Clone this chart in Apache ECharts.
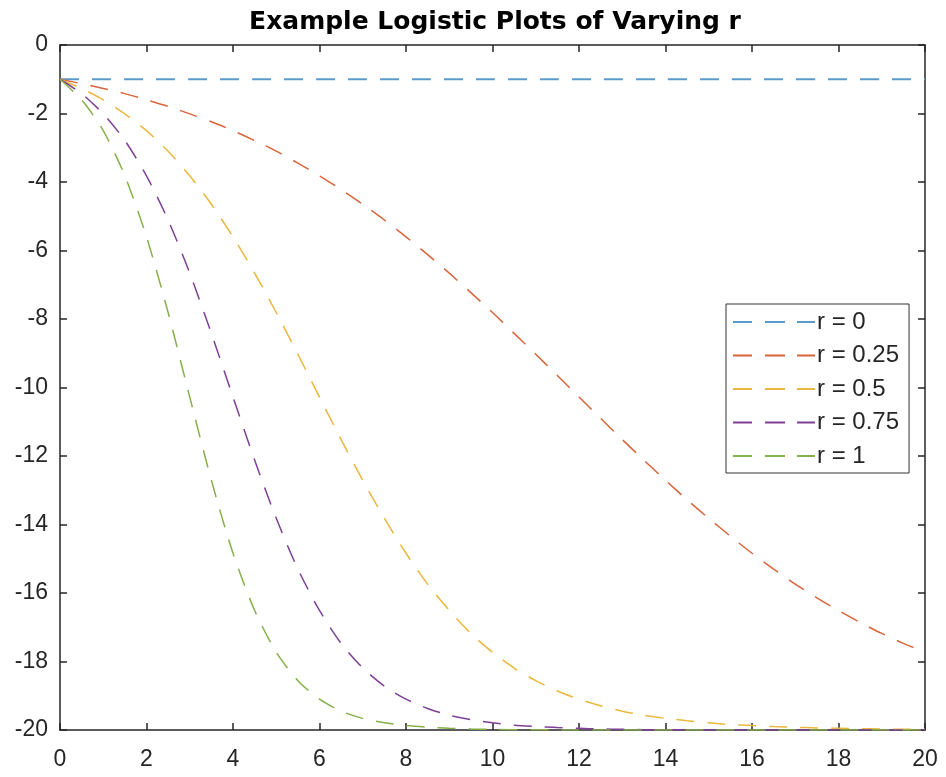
<!DOCTYPE html>
<html>
<head>
<meta charset="utf-8">
<script src="https://cdn.jsdelivr.net/npm/echarts@6/dist/echarts.min.js"></script>
<style>
html,body{margin:0;padding:0;background:#fff;}
#chart{width:946px;height:777px;}
</style>
</head>
<body>
<div id="chart"></div>
<script>
// x samples
var xValues = [0,0.5,1,1.5,2,2.5,3,3.5,4,4.5,5,5.5,6,6.5,7,7.5,8,8.5,9,9.5,10,10.5,11,11.5,12,12.5,13,13.5,14,14.5,15,15.5,16,16.5,17,17.5,18,18.5,19,19.5,20];
var seriesNames = ['r = 0','r = 0.25','r = 0.5','r = 0.75','r = 1'];
var r0 = [-1,-1,-1,-1,-1,-1,-1,-1,-1,-1,-1,-1,-1,-1,-1,-1,-1,-1,-1,-1,-1,-1,-1,-1,-1,-1,-1,-1,-1,-1,-1,-1,-1,-1,-1,-1,-1,-1,-1,-1,-1];
var r025 = [-1,-1.13,-1.27,-1.42,-1.6,-1.79,-2.01,-2.24,-2.5,-2.79,-3.1,-3.45,-3.82,-4.22,-4.65,-5.11,-5.6,-6.12,-6.66,-7.23,-7.81,-8.42,-9.03,-9.65,-10.28,-10.9,-11.52,-12.12,-12.71,-13.28,-13.82,-14.34,-14.84,-15.3,-15.74,-16.14,-16.51,-16.86,-17.18,-17.47,-17.73];
var r050 = [-1,-1.27,-1.6,-2.01,-2.5,-3.1,-3.82,-4.65,-5.6,-6.66,-7.81,-9.03,-10.28,-11.52,-12.71,-13.82,-14.84,-15.74,-16.51,-17.18,-17.73,-18.19,-18.56,-18.86,-19.1,-19.29,-19.45,-19.57,-19.66,-19.73,-19.79,-19.84,-19.87,-19.9,-19.92,-19.94,-19.95,-19.96,-19.97,-19.98,-19.98];
var r075 = [-1,-1.42,-2.01,-2.79,-3.82,-5.11,-6.66,-8.42,-10.28,-12.12,-13.82,-15.3,-16.51,-17.47,-18.19,-18.72,-19.1,-19.37,-19.57,-19.7,-19.79,-19.86,-19.9,-19.93,-19.95,-19.97,-19.98,-19.99,-19.99,-19.99,-20,-20,-20,-20,-20,-20,-20,-20,-20,-20,-20];
var r100 = [-1,-1.6,-2.5,-3.82,-5.6,-7.81,-10.28,-12.71,-14.84,-16.51,-17.73,-18.56,-19.1,-19.45,-19.66,-19.79,-19.87,-19.92,-19.95,-19.97,-19.98,-19.99,-19.99,-20,-20,-20,-20,-20,-20,-20,-20,-20,-20,-20,-20,-20,-20,-20,-20,-20,-20];
var xTicks = [0,2,4,6,8,10,12,14,16,18,20];
var yTicks = [-20,-18,-16,-14,-12,-10,-8,-6,-4,-2,0];

var colors = ['#5b9bcb','#d9643a','#eab83c','#7e3f96','#86b04a'];
var allY = [r0, r025, r050, r075, r100];

function pairs(ys){ return xValues.map(function(x,i){ return [x, ys[i]]; }); }

var axisColor = '#262626';
var fontFam = '"Liberation Sans", Arial, Helvetica, sans-serif';

var series = seriesNames.map(function(name, k){
  return {
    name: name,
    type: 'line',
    data: pairs(allY[k]),
    showSymbol: false,
    symbol: 'none',
    smooth: 0.25,
    animation: false,
    lineStyle: { color: colors[k], width: k === 0 ? 2 : 1.5, type: k === 0 ? [19,13] : [18,13] },
    itemStyle: { color: colors[k] },
    z: 2 + k
  };
});

var chart = echarts.init(document.getElementById('chart'), null, {renderer: 'canvas'});
chart.setOption({
  animation: false,
  backgroundColor: '#ffffff',
  title: {
    text: 'Example Logistic Plots of Varying r',
    left: 490, top: 5, textAlign: 'center',
    textStyle: { fontFamily: '"DejaVu Sans", sans-serif', fontSize: 25, fontWeight: 'bold', color: '#000' }
  },
  grid: { left: 60, right: 21, top: 45, bottom: 47, containLabel: false },
  xAxis: [{
    type: 'value', min: 0, max: 20, interval: 2, position: 'bottom',
    axisLine: { show: true, onZero: false, lineStyle: { color: axisColor, width: 1.5 } },
    axisTick: { show: true, inside: true, length: 7, lineStyle: { color: axisColor, width: 1.5 } },
    axisLabel: { margin: 18, fontFamily: fontFam, fontSize: 23, color: axisColor,
      formatter: function(v){ return xTicks.indexOf(v) >= 0 ? String(v) : ''; } },
    splitLine: { show: false }
  },{
    type: 'value', min: 0, max: 20, interval: 2, position: 'top',
    axisLine: { show: true, onZero: false, lineStyle: { color: axisColor, width: 1.5 } },
    axisTick: { show: true, inside: true, length: 7, lineStyle: { color: axisColor, width: 1.5 } },
    axisLabel: { show: false }, splitLine: { show: false }
  }],
  yAxis: [{
    type: 'value', min: -20, max: 0, interval: 2, position: 'left',
    axisLine: { show: true, onZero: false, lineStyle: { color: axisColor, width: 1.5 } },
    axisTick: { show: true, inside: true, length: 7, lineStyle: { color: axisColor, width: 1.5 } },
    axisLabel: { margin: 12, fontFamily: fontFam, fontSize: 23, color: axisColor,
      formatter: function(v){ return yTicks.indexOf(v) >= 0 ? String(v) : ''; } },
    splitLine: { show: false }
  },{
    type: 'value', min: -20, max: 0, interval: 2, position: 'right',
    axisLine: { show: true, onZero: false, lineStyle: { color: axisColor, width: 1.5 } },
    axisTick: { show: true, inside: true, length: 7, lineStyle: { color: axisColor, width: 1.5 } },
    axisLabel: { show: false }, splitLine: { show: false }
  }],
  legend: {
    orient: 'vertical',
    left: 726, top: 304,
    padding: [6, 10, 5, 7],
    itemGap: 9.5,
    itemWidth: 82, itemHeight: 2,
    icon: 'path://M0,0H19V2H0Z M32,0H52V2H32Z M64,0H82V2H64Z',
    symbolKeepAspect: false,
    backgroundColor: '#ffffff',
    borderColor: '#333333', borderWidth: 1, borderRadius: 0,
    textStyle: { fontFamily: fontFam, fontSize: 24, color: axisColor, lineHeight: 24, padding: [0,0,0,-3] },
    data: seriesNames
  },
  series: series
});
</script>
</body>
</html>
